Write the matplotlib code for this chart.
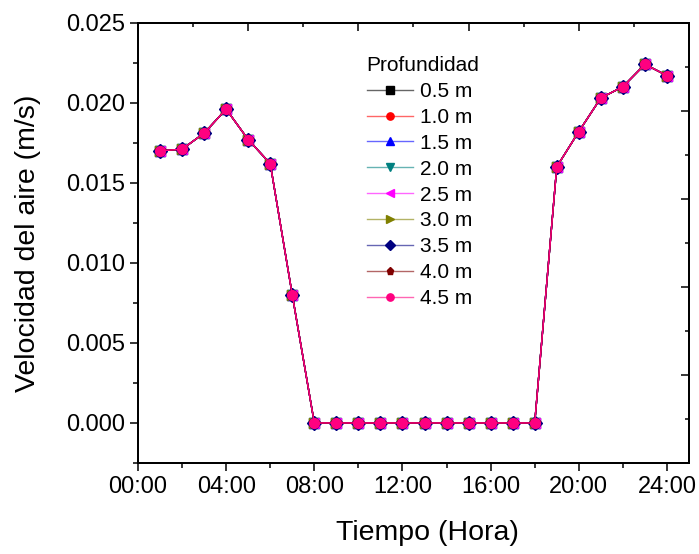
import numpy as np
import matplotlib.pyplot as plt
from matplotlib.colors import to_rgb
from matplotlib.ticker import MultipleLocator, FixedLocator

plt.rcParams['font.family'] = ['Liberation Sans', 'DejaVu Sans']

# ==========================
# Datos
# ==========================
horas = [1, 2, 3, 4, 5, 6, 7, 8, 9, 10, 11, 12,
         13, 14, 15, 16, 17, 18, 19, 20, 21, 22, 23, 24]

velocidad = [0.0170, 0.0171, 0.0181, 0.0196, 0.0177, 0.0162, 0.0080, 0.0,
             0.0, 0.0, 0.0, 0.0, 0.0, 0.0, 0.0, 0.0, 0.0, 0.0,
             0.0160, 0.0182, 0.0203, 0.0210, 0.0224, 0.0217]

profundidades = ["0.5 m", "1.0 m", "1.5 m", "2.0 m", "2.5 m",
                 "3.0 m", "3.5 m", "4.0 m", "4.5 m"]
colores = ["#000000", "#FF0000", "#0000FF", "#008080", "#FF00FF",
           "#808000", "#000080", "#800000", "#FF0080"]
marcadores = ["s", "o", "^", "v", "<", ">", "D", "p", "o"]

xticks = [0, 4, 8, 12, 16, 20, 24]
xticklabels = ["00:00", "04:00", "08:00", "12:00", "16:00", "20:00", "24:00"]

# ==========================
# Gráfico
# ==========================
fig = plt.figure(figsize=(6.99, 5.54), dpi=100)
ax = fig.add_axes([0.1974, 0.1643, 0.7883, 0.7947])

for prof, cor, mk in zip(profundidades, colores, marcadores):
    ax.plot(horas, velocidad, color=cor, marker=mk, markersize=7,
            linewidth=1.0, label=prof)

ax.set_xlim(0, 25)
ax.set_ylim(-0.0025, 0.025)
ax.set_xticks(xticks)
ax.set_xticklabels(xticklabels)
ax.xaxis.set_minor_locator(MultipleLocator(2))
ax.yaxis.set_major_locator(MultipleLocator(0.005))
ax.yaxis.set_minor_locator(MultipleLocator(0.0025))
ax.yaxis.set_major_formatter(plt.FormatStrFormatter("%.3f"))

ax.tick_params(which="major", direction="out", length=6, width=1.1,
               labelsize=17, top=False, right=False)
ax.tick_params(which="minor", direction="out", length=3.5, width=1.1,
               top=False, right=False)
for s in ax.spines.values():
    s.set_linewidth(1.2)

# ejes secundarios (marcas hacia dentro)
axt = ax.twiny()
axt.set_xlim(0, 25)
axt.xaxis.set_major_locator(FixedLocator([0, 5, 10, 15, 20, 25]))
axt.xaxis.set_minor_locator(FixedLocator([2.5, 7.5, 12.5, 17.5, 22.5]))
axt.tick_params(which="major", direction="in", length=5.5, width=1.1,
                labeltop=False)
axt.tick_params(which="minor", direction="in", length=3, width=1.1)

axr = ax.twinx()
axr.set_ylim(-0.0025, 0.025)
paso = 0.00275
axr.yaxis.set_major_locator(FixedLocator([-0.0025 + paso * k for k in (2, 4, 6, 8, 10)]))
axr.yaxis.set_minor_locator(FixedLocator([-0.0025 + paso * k for k in (1, 3, 5, 7, 9)]))
axr.tick_params(which="major", direction="in", length=5.5, width=1.1,
                labelright=False)
axr.tick_params(which="minor", direction="in", length=3, width=1.1)
for a in (axt, axr):
    for s in a.spines.values():
        s.set_linewidth(1.2)

ax.set_xlabel("Tiempo (Hora)", fontsize=20.5, labelpad=14)
ax.xaxis.set_label_coords(0.525, -0.13)
ax.set_ylabel("Velocidad del aire (m/s)", fontsize=20.5, labelpad=18)

leg = ax.legend(title="Profundidad", loc="upper left",
                bbox_to_anchor=(0.40, 0.943), frameon=False,
                fontsize=15, title_fontsize=15, handlelength=2.2,
                handletextpad=0.35, labelspacing=0.33, borderaxespad=0,
                markerscale=0.75)
leg._legend_box.align = "left"
# líneas de la leyenda más claras, marcadores sólidos
for ln, cor in zip(leg.get_lines(), colores):
    r, g, b = to_rgb(cor)
    ln.set_color((0.4 + 0.6 * r, 0.4 + 0.6 * g, 0.4 + 0.6 * b))
    ln.set_markerfacecolor(cor)
    ln.set_markeredgecolor(cor)

fig.savefig("out.png", dpi=100)
plt.close(fig)
